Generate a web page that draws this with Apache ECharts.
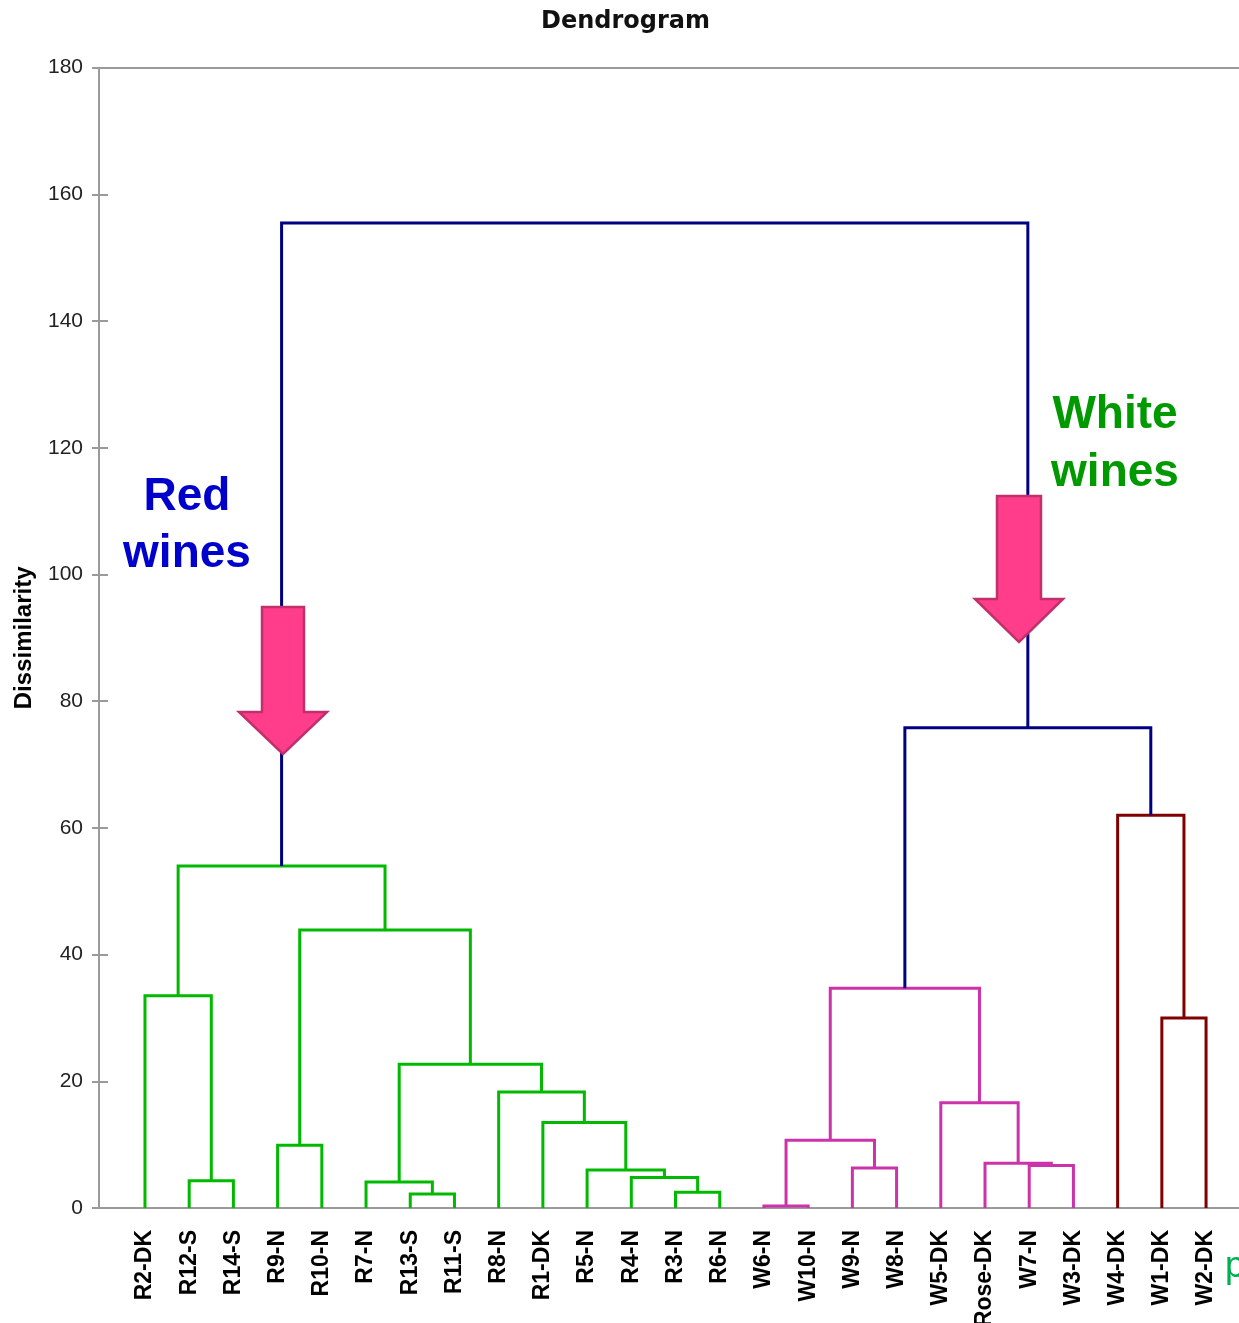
<!DOCTYPE html>
<html>
<head>
<meta charset="utf-8">
<title>Dendrogram</title>
<script src="https://cdn.jsdelivr.net/npm/echarts@6/dist/echarts.min.js"></script>
<style>
  html, body { margin: 0; padding: 0; background: #fff; }
  #chart { width: 1239px; height: 1323px; }
</style>
</head>
<body>
<div id="chart"></div>
<script>
// Leaf order along the x axis
const leaves = [
  'R2-DK', 'R12-S', 'R14-S', 'R9-N', 'R10-N', 'R7-N', 'R13-S', 'R11-S',
  'R8-N', 'R1-DK', 'R5-N', 'R4-N', 'R3-N', 'R6-N',
  'W6-N', 'W10-N', 'W9-N', 'W8-N', 'W5-DK', 'Rose-DK', 'W7-N', 'W3-DK',
  'W4-DK', 'W1-DK', 'W2-DK'
];

// Merges: [new cluster, left child, right child, dissimilarity]
const redMerges = [
  ['c1', 'R12-S', 'R14-S', 4.3],
  ['c2', 'R2-DK', 'c1', 33.5],
  ['c3', 'R9-N', 'R10-N', 9.9],
  ['c4', 'R13-S', 'R11-S', 2.2],
  ['c5', 'R7-N', 'c4', 4.1],
  ['c6', 'R3-N', 'R6-N', 2.5],
  ['c7', 'R4-N', 'c6', 4.8],
  ['c8', 'R5-N', 'c7', 6.0],
  ['c9', 'R1-DK', 'c8', 13.5],
  ['c10', 'R8-N', 'c9', 18.3],
  ['c11', 'c5', 'c10', 22.7],
  ['c12', 'c3', 'c11', 43.9],
  ['c13', 'c2', 'c12', 54.0]
];
const whiteMerges = [
  ['c14', 'W6-N', 'W10-N', 0.3],
  ['c15', 'W9-N', 'W8-N', 6.3],
  ['c16', 'c14', 'c15', 10.7],
  ['c17', 'W7-N', 'W3-DK', 6.7],
  ['c18', 'Rose-DK', 'c17', 7.05],
  ['c19', 'W5-DK', 'c18', 16.6],
  ['c20', 'c16', 'c19', 34.7]
];
const dkMerges = [
  ['c21', 'W1-DK', 'W2-DK', 30.0],
  ['c22', 'W4-DK', 'c21', 62.0]
];
const topMerges = [
  ['c23', 'c20', 'c22', 75.8],
  ['c24', 'c13', 'c23', 155.5]
];

const yTicks = { min: 0, max: 180, step: 20 };

const groupColors = ['#00b900', '#cc33aa', '#800000', '#000080'];

// Lay out the tree: each cluster sits midway between its two children
const pos = {}, hgt = {};
leaves.forEach((n, i) => { pos[n] = i; hgt[n] = 0; });
function bracketData(rows) {
  return rows.map(([id, a, b, h]) => {
    pos[id] = (pos[a] + pos[b]) / 2;
    hgt[id] = h;
    return [pos[a], hgt[a], pos[b], hgt[b], h];
  });
}
const groups = [redMerges, whiteMerges, dkMerges, topMerges].map(bracketData);

function bracketSeries(data, color) {
  return {
    type: 'custom',
    data: data,
    encode: { x: [0, 2], y: [1, 3, 4] },
    z: 3,
    renderItem: function (params, api) {
      const p1 = api.coord([api.value(0), api.value(1)]);
      const p2 = api.coord([api.value(0), api.value(4)]);
      const p3 = api.coord([api.value(2), api.value(4)]);
      const p4 = api.coord([api.value(2), api.value(3)]);
      return {
        type: 'polyline',
        shape: { points: [p1, p2, p3, p4] },
        style: { stroke: color, lineWidth: 3, fill: null, lineJoin: 'miter' }
      };
    }
  };
}

const xMin = -1.04, xMax = 24.745;
const axisGray = '#9a9a9a';

const chart = echarts.init(document.getElementById('chart'), null, { renderer: 'canvas' });
chart.setOption({
  animation: false,
  backgroundColor: '#ffffff',
  title: {
    text: 'Dendrogram',
    left: 536,
    top: 5,
    textStyle: { fontFamily: 'DejaVu Sans', fontWeight: 'bold', fontSize: 24, color: '#111' }
  },
  grid: { left: 99, right: 0, top: 67.7, bottom: 115, containLabel: false, outerBoundsMode: 'none' },
  xAxis: [
    {
      type: 'value', min: xMin, max: xMax, position: 'bottom',
      axisLine: { show: true, onZero: false, lineStyle: { color: axisGray, width: 2 } },
      axisTick: { show: false },
      splitLine: { show: false },
      axisLabel: {
        customValues: leaves.map((_, i) => i),
        formatter: v => leaves[Math.round(v)] || '',
        rotate: 90, margin: 22,
        fontFamily: 'Liberation Sans', fontWeight: 'bold', fontSize: 23, color: '#000'
      }
    },
    {
      type: 'value', min: xMin, max: xMax, position: 'top',
      axisLine: { show: true, onZero: false, lineStyle: { color: axisGray, width: 2 } },
      axisTick: { show: false }, axisLabel: { show: false }, splitLine: { show: false }
    }
  ],
  yAxis: [
    {
      type: 'value', min: yTicks.min, max: yTicks.max, interval: yTicks.step,
      axisLine: { show: true, onZero: false, lineStyle: { color: axisGray, width: 2 } },
      axisTick: { show: true, inside: false, length: 7, lineStyle: { color: axisGray, width: 2 } },
      splitLine: { show: false },
      axisLabel: { margin: 16, fontFamily: 'Liberation Sans', fontSize: 21, color: '#222' },
      name: 'Dissimilarity', nameLocation: 'middle', nameGap: 63,
      nameTextStyle: { fontFamily: 'Liberation Sans', fontWeight: 'bold', fontSize: 24, color: '#000' }
    },
    {
      type: 'value', min: yTicks.min, max: yTicks.max, interval: yTicks.step, position: 'left',
      axisLine: { show: false, onZero: false },
      axisTick: { show: true, inside: true, length: 9, lineStyle: { color: axisGray, width: 2 } },
      splitLine: { show: false }, axisLabel: { show: false }
    }
  ],
  series: groups.map((d, i) => bracketSeries(d, groupColors[i])),
  graphic: [
    {
      type: 'text', x: 187, y: 469, z: 10,
      style: {
        text: 'Red\nwines', fill: '#0000cc', textAlign: 'center', textVerticalAlign: 'top',
        font: 'bold 46px "Liberation Sans"', lineHeight: 57
      }
    },
    {
      type: 'text', x: 1115, y: 386, z: 10,
      style: {
        text: 'White\nwines', fill: '#009900', textAlign: 'center', textVerticalAlign: 'top',
        font: 'bold 46px "Liberation Sans"', lineHeight: 58
      }
    },
    {
      type: 'polygon', z: 10,
      shape: { points: [[262, 607], [304, 607], [304, 712], [327, 712], [283, 754], [239, 712], [262, 712]] },
      style: { fill: '#ff3d8b', stroke: '#c2306b', lineWidth: 2.5 }
    },
    {
      type: 'polygon', z: 10,
      shape: { points: [[997, 496], [1041, 496], [1041, 599], [1063, 599], [1019, 642], [975, 599], [997, 599]] },
      style: { fill: '#ff3d8b', stroke: '#c2306b', lineWidth: 2.5 }
    },
    {
      type: 'text', x: 1225, y: 1249, z: 10,
      style: { text: 'p', fill: '#00b050', font: '36px "Liberation Sans"', textVerticalAlign: 'top' }
    }
  ]
});
</script>
</body>
</html>
